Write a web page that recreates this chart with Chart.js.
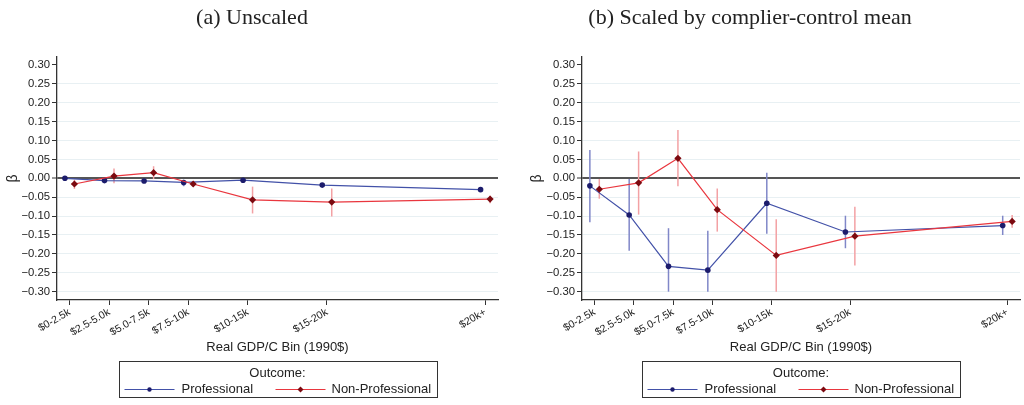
<!DOCTYPE html>
<html>
<head>
<meta charset="utf-8">
<script src="https://cdn.jsdelivr.net/npm/chart.js@4/dist/chart.umd.min.js"></script>
<style>
  html, body { margin: 0; padding: 0; background: #fff; }
  #wrap { position: relative; width: 1024px; height: 405px; overflow: hidden; }
  canvas { position: absolute; top: 0; }
  #panelA { left: 0; }
  #panelB { left: 512px; }
</style>
</head>
<body>
<div id="wrap">
  <canvas id="panelA" width="512" height="405"></canvas>
  <canvas id="panelB" width="512" height="405"></canvas>
</div>
<script>
// Income bins (real GDP per capita, 1990$) and their midpoints on the x axis
const bins   = ['$0-2.5k', '$2.5-5.0k', '$5.0-7.5k', '$7.5-10k', '$10-15k', '$15-20k', '$20k+'];
const binMid = [1.25, 3.75, 6.25, 8.75, 12.5, 17.5, 27.5];
const yTicks = [0.30, 0.25, 0.20, 0.15, 0.10, 0.05, 0.00, -0.05, -0.10, -0.15, -0.20, -0.25, -0.30];

// (a) Unscaled coefficients with confidence bounds
const profA    = [0.000, -0.006, -0.007, -0.011, -0.005, -0.018, -0.030];
const profALo  = [-0.003, -0.010, -0.011, -0.021, -0.009, -0.023, -0.036];
const profAHi  = [0.003, -0.002, -0.003, -0.004, -0.001, -0.013, -0.024];
const nonA     = [-0.015, 0.006, 0.015, -0.015, -0.057, -0.063, -0.055];
const nonALo   = [-0.028, -0.013, -0.002, -0.021, -0.093, -0.101, -0.066];
const nonAHi   = [-0.004, 0.026, 0.032, -0.009, -0.022, -0.027, -0.046];

// (b) Scaled by complier-control mean
const profB    = [-0.020, -0.097, -0.233, -0.243, -0.066, -0.142, -0.125];
const profBLo  = [-0.116, -0.192, -0.300, -0.300, -0.147, -0.185, -0.150];
const profBHi  = [0.075, -0.002, -0.132, -0.139, 0.015, -0.099, -0.099];
const nonB     = [-0.029, -0.012, 0.053, -0.083, -0.204, -0.153, -0.114];
const nonBLo   = [-0.054, -0.096, -0.021, -0.141, -0.300, -0.231, -0.131];
const nonBHi   = [-0.002, 0.071, 0.128, -0.027, -0.108, -0.075, -0.097];

const titleA = '(a) Unscaled';
const titleB = '(b) Scaled by complier-control mean';
const xTitle = 'Real GDP/C Bin (1990$)';
const yTitle = 'β';
const legendTitle = 'Outcome:';
const seriesNames = ['Professional', 'Non-Professional'];

const DODGE = 0.3;
const SANS = '"Liberation Sans", Arial, sans-serif';
const SERIF = '"Liberation Serif", "DejaVu Serif", serif';

const COLORS = {
  profLine: '#4251a8', profMark: '#1c1c6c', profCI: '#8087c8',
  nonLine: '#e9363e',  nonMark: '#7c0a10',  nonCI: '#f3a1a4',
  grid: '#e8f0f3', axis: '#333333', zero: '#555555', text: '#222222'
};

// Vertical confidence spikes, positioned through the chart's scales
const ciSpikes = {
  id: 'ciSpikes',
  beforeDatasetsDraw(chart) {
    const { ctx, chartArea, scales: { y } } = chart;
    ctx.save();
    ctx.beginPath();
    ctx.rect(chartArea.left, chartArea.top, chartArea.right - chartArea.left, chartArea.bottom - chartArea.top);
    ctx.clip();
    chart.data.datasets.forEach((ds, di) => {
      if (!ds.ci) return;
      const meta = chart.getDatasetMeta(di);
      ctx.strokeStyle = ds.ci.color;
      ctx.lineWidth = 1.5;
      meta.data.forEach((pt, i) => {
        ctx.beginPath();
        ctx.moveTo(pt.x, y.getPixelForValue(ds.ci.lo[i]));
        ctx.lineTo(pt.x, y.getPixelForValue(ds.ci.hi[i]));
        ctx.stroke();
      });
    });
    ctx.restore();
  }
};

// Panel heading
const panelTitle = {
  id: 'panelTitle',
  afterDraw(chart, args, opts) {
    const { ctx } = chart;
    ctx.save();
    ctx.font = opts.font;
    ctx.fillStyle = COLORS.text;
    ctx.textAlign = 'center';
    ctx.textBaseline = 'middle';
    ctx.fillText(opts.text, opts.x, opts.y);
    ctx.restore();
  }
};

// Boxed legend under the x axis
const boxLegend = {
  id: 'boxLegend',
  afterDraw(chart, args, opts) {
    const { ctx, chartArea } = chart;
    const cx = (chartArea.left + chartArea.right) / 2;
    const w = 318, x0 = Math.round(cx - w / 2) + 0.5;
    const top = 361.5, h = 36;
    ctx.save();
    ctx.strokeStyle = COLORS.axis;
    ctx.lineWidth = 1;
    ctx.strokeRect(x0, top, w, h);
    ctx.fillStyle = COLORS.text;
    ctx.font = '13px ' + SANS;
    ctx.textBaseline = 'middle';
    ctx.textAlign = 'center';
    ctx.fillText(legendTitle, cx, top + 12);
    const ry = top + 28;
    ctx.textAlign = 'left';
    // Professional
    ctx.strokeStyle = COLORS.profLine; ctx.lineWidth = 1.2;
    ctx.beginPath(); ctx.moveTo(x0 + 5, ry); ctx.lineTo(x0 + 55, ry); ctx.stroke();
    ctx.fillStyle = COLORS.profMark;
    ctx.beginPath(); ctx.arc(x0 + 30, ry, 2.2, 0, Math.PI * 2); ctx.fill();
    ctx.fillStyle = COLORS.text;
    ctx.fillText(seriesNames[0], x0 + 62, ry);
    // Non-Professional
    ctx.strokeStyle = COLORS.nonLine;
    ctx.beginPath(); ctx.moveTo(x0 + 156, ry); ctx.lineTo(x0 + 206, ry); ctx.stroke();
    ctx.fillStyle = COLORS.nonMark;
    ctx.beginPath();
    ctx.moveTo(x0 + 181, ry - 3); ctx.lineTo(x0 + 184, ry); ctx.lineTo(x0 + 181, ry + 3); ctx.lineTo(x0 + 178, ry);
    ctx.closePath(); ctx.fill();
    ctx.fillStyle = COLORS.text;
    ctx.fillText(seriesNames[1], x0 + 212, ry);
    ctx.restore();
  }
};

function makePanel(canvasId, opt) {
  const pts = (vals, shift) => binMid.map((m, i) => ({ x: m + shift, y: vals[i] }));
  return new Chart(document.getElementById(canvasId), {
    type: 'line',
    data: {
      datasets: [
        {
          label: seriesNames[0],
          data: pts(opt.prof, -DODGE),
          borderColor: COLORS.profLine, borderWidth: 1.2,
          pointStyle: 'circle', pointRadius: 2.8,
          pointBackgroundColor: COLORS.profMark, pointBorderWidth: 0,
          ci: { lo: opt.profLo, hi: opt.profHi, color: COLORS.profCI },
          order: 2
        },
        {
          label: seriesNames[1],
          data: pts(opt.non, DODGE),
          borderColor: COLORS.nonLine, borderWidth: 1.2,
          pointStyle: 'rectRot', pointRadius: 3.6,
          pointBackgroundColor: COLORS.nonMark, pointBorderWidth: 0,
          ci: { lo: opt.nonLo, hi: opt.nonHi, color: COLORS.nonCI },
          order: 1
        }
      ]
    },
    options: {
      responsive: false,
      animation: false,
      events: [],
      layout: { padding: { top: 57, left: 0, right: opt.padRight, bottom: 50 } },
      plugins: {
        legend: { display: false },
        title: { display: false },
        tooltip: { enabled: false },
        panelTitle: { text: opt.title, x: opt.titleX, y: 18, font: '22px ' + SERIF },
        boxLegend: {}
      },
      scales: {
        x: {
          type: 'linear',
          min: 0.45, max: 28.3,
          afterBuildTicks(scale) { scale.ticks = binMid.map(v => ({ value: v })); },
          afterFit(scale) { scale.height = 55; scale.paddingLeft = 0; scale.paddingRight = 0; },
          border: { color: COLORS.axis, width: 1.3 },
          grid: { drawOnChartArea: false, drawTicks: true, tickLength: 5, tickColor: COLORS.axis, tickWidth: 1 },
          ticks: {
            autoSkip: false, minRotation: 30, maxRotation: 30, padding: 1,
            color: COLORS.text, font: { family: SANS, size: 10.5 },
            callback: (v, i) => bins[i]
          },
          title: {
            display: true, text: xTitle, color: COLORS.text,
            font: { family: SANS, size: 13 }, padding: { top: 0, bottom: 0 }
          }
        },
        y: {
          type: 'linear',
          min: -0.322, max: 0.321,
          afterBuildTicks(scale) { scale.ticks = yTicks.map(v => ({ value: v })); },
          afterFit(scale) { scale.width = opt.yWidth; scale.paddingTop = 0; scale.paddingBottom = 0; },
          border: { color: COLORS.axis, width: 1.3 },
          grid: {
            drawTicks: true, tickLength: 5, tickWidth: 1, tickColor: COLORS.axis,
            color: c => (Math.abs(c.tick.value) < 1e-9 ? COLORS.zero : (Math.abs(c.tick.value - 0.30) < 1e-9 ? 'rgba(0,0,0,0)' : COLORS.grid)),
            lineWidth: c => (Math.abs(c.tick.value) < 1e-9 ? 2 : 1)
          },
          ticks: {
            padding: 2, color: COLORS.text, font: { family: SANS, size: 11.3 },
            callback: v => (v < -1e-9 ? '\u2212' : '') + Math.abs(v).toFixed(2)
          },
          title: {
            display: true, text: yTitle, color: COLORS.text,
            font: { family: SANS, size: 14 }, padding: { top: opt.yTitlePad, bottom: 0 }
          }
        }
      }
    },
    plugins: [ciSpikes, panelTitle, boxLegend]
  });
}

makePanel('panelA', {
  title: titleA, titleX: 252, yWidth: 57, padRight: 14, yTitlePad: 4.6,
  prof: profA, profLo: profALo, profHi: profAHi,
  non: nonA, nonLo: nonALo, nonHi: nonAHi
});

makePanel('panelB', {
  title: titleB, titleX: 238, yWidth: 70, padRight: 2, yTitlePad: 16.6,
  prof: profB, profLo: profBLo, profHi: profBHi,
  non: nonB, nonLo: nonBLo, nonHi: nonBHi
});
</script>
</body>
</html>
